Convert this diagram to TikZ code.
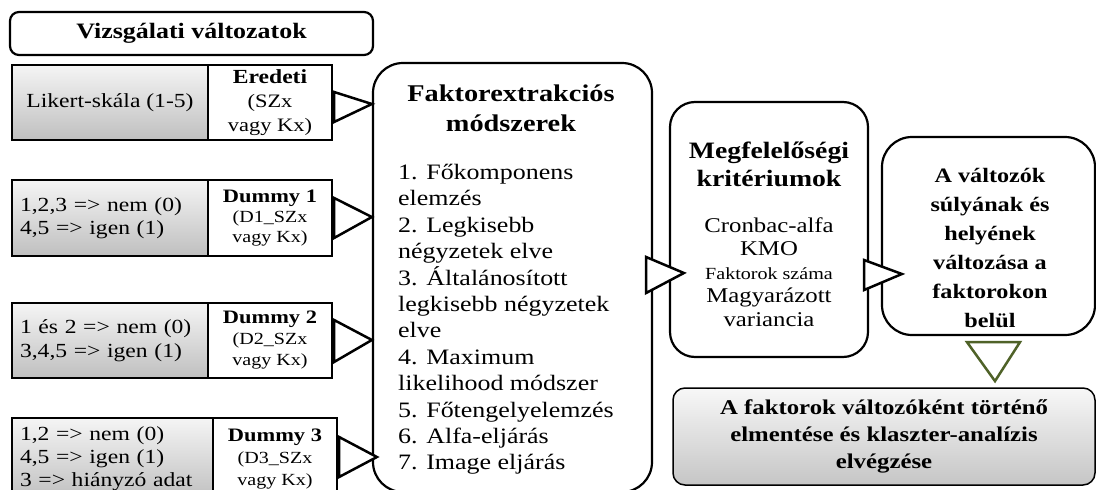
\documentclass[tikz,border=0pt]{standalone}
\usepackage{fontspec}
\setmainfont{Liberation Serif}[FakeStretch=1.18]
\usetikzlibrary{calc}
\definecolor{olivegreen}{RGB}{79,98,40}
\tikzset{
  box/.style={draw, line width=2.2pt, inner sep=0pt, align=center},
  graybox/.style={box, top color=gray!8, bottom color=gray!50},
  whitebox/.style={box, fill=white},
  roundbox/.style={box, fill=white, rounded corners=#1},
  tri/.style={draw, line width=2.5pt, fill=white, line join=miter},
  txt/.style={inner sep=0pt, align=center},
}
\begin{document}
\begin{tikzpicture}[x=1pt,y=-1pt]
\useasboundingbox (0,0) rectangle (1096,490);
\clip (0,0) rectangle (1096,490);
\fill[white] (0,0) rectangle (1096,490);

% title
\node[roundbox=9pt, minimum width=363pt, minimum height=43pt, font=\fontsize{22}{24}\selectfont\bfseries] (title) at (191.5,33.5) {Vizsgálati változatok};

% left rows
\node[graybox, minimum width=196pt, minimum height=75pt, font=\fontsize{20}{23}\selectfont] (g1) at (110,102.5) {Likert-skála (1-5)};
\node[whitebox, minimum width=124pt, minimum height=75pt, font=\fontsize{19}{24}\selectfont] (w1) at (270,102.5) {\textbf{\fontsize{20}{22}\selectfont Eredeti}\\(SZx\\vagy Kx)};

\node[graybox, minimum width=196pt, minimum height=76pt, text width=180pt, align=left, font=\fontsize{20}{23}\selectfont] (g2) at (110,218) {1,2,3 => nem (0)\\4,5 => igen (1)};
\node[whitebox, minimum width=124pt, minimum height=76pt, font=\fontsize{17}{20}\selectfont] (w2) at (270,218) {\textbf{\fontsize{19}{20}\selectfont Dummy 1}\\(D1\_SZx\\vagy Kx)};

\node[graybox, minimum width=196pt, minimum height=75pt, text width=180pt, align=left, font=\fontsize{20}{24}\selectfont] (g3) at (110,340.5) {1 és 2 => nem (0)\\3,4,5 => igen (1)};
\node[whitebox, minimum width=124pt, minimum height=75pt, font=\fontsize{17}{21}\selectfont] (w3) at (270,340.5) {\textbf{\fontsize{19}{20}\selectfont Dummy 2}\\(D2\_SZx\\vagy Kx)};

\node[graybox, minimum width=201pt, minimum height=82pt, text width=185pt, align=left, font=\fontsize{20}{23}\selectfont] (g4) at (112.5,459) {1,2 => nem (0)\\4,5 => igen (1)\\3 => hiányzó adat};
\node[whitebox, minimum width=124pt, minimum height=82pt, font=\fontsize{17}{22}\selectfont] (w4) at (275,459) {\textbf{\fontsize{19}{20}\selectfont Dummy 3}\\(D3\_SZx\\vagy Kx)};

% factor extraction box
\node[roundbox=30pt, minimum width=279pt, minimum height=429pt] (fx) at (512.5,277.5) {};
\node[txt, font=\fontsize{24}{30}\selectfont\bfseries] (fxt) at (511,108) {Faktorextrakciós\\módszerek};
\node[txt, anchor=north west, align=left, font=\fontsize{22}{26.4}\selectfont] (fxl) at (398,164) {1. Főkomponens\\elemzés\\2. Legkisebb\\négyzetek elve\\3. Általánosított\\legkisebb négyzetek\\elve\\4. Maximum\\likelihood módszer\\5. Főtengelyelemzés\\6. Alfa-eljárás\\7. Image eljárás};

% criteria box
\node[roundbox=25pt, minimum width=198pt, minimum height=255pt] (mf) at (769,229.5) {};
\node[txt, font=\fontsize{23.5}{28}\selectfont\bfseries] (mft) at (769,164) {Megfelelőségi\\kritériumok};
\node[txt, font=\fontsize{21}{23.5}\selectfont] (mfl) at (769,272) {Cronbac-alfa\\KMO\\{\fontsize{17}{20}\selectfont Faktorok száma}\\Magyarázott\\variancia};

% weights box
\node[roundbox=30pt, minimum width=213pt, minimum height=198pt] (vs) at (988.5,236) {};
\node[txt, font=\fontsize{20.5}{29}\selectfont\bfseries] (vst) at (990,248) {A változók\\súlyának és\\helyének\\változása a\\faktorokon\\belül};

% final box
\node[box, rounded corners=12pt, line width=1.5pt, top color=gray!6, bottom color=gray!45, minimum width=422pt, minimum height=97pt, font=\fontsize{21}{27}\selectfont\bfseries] (kl) at (884,436.5) {A faktorok változóként történő\\elmentése és klaszter-analízis\\elvégzése};

% connector triangles
\draw[tri] ($(w1.east)+(1,-10.5)$) -- ($(fx.west |- w1.east)+(0,1.5)$) -- ($(w1.east)+(1,19.5)$) -- cycle;
\draw[tri] ($(w2.east)+(1,-20)$) -- ($(fx.west |- w2.east)+(0,-1)$) -- ($(w2.east)+(1,20)$) -- cycle;
\draw[tri] ($(w3.east)+(1,-20.5)$) -- ($(fx.west |- w3.east)+(0,-0.5)$) -- ($(w3.east)+(1,21.5)$) -- cycle;
\draw[tri] ($(w4.east)+(1,-22)$) -- ($(fx.west |- w4.east)+(5,-2)$) -- ($(w4.east)+(1,18)$) -- cycle;
\draw[tri] ($(fx.east)+(-7,-20.5)$) -- ($(mf.west |- fx.east)+(15,-4.5)$) -- ($(fx.east)+(-7,15.5)$) -- cycle;
\draw[tri] ($(mf.east)+(-5,30.5)$) -- ($(vs.west |- mf.east)+(21,44.5)$) -- ($(mf.east)+(-5,60.5)$) -- cycle;
\draw[tri, draw=olivegreen] ($(vs.south)+(-21.5,6)$) -- ($(vs.south)+(31.5,6)$) -- ($(vs.south)+(6.5,45)$) -- cycle;
\end{tikzpicture}
\end{document}
